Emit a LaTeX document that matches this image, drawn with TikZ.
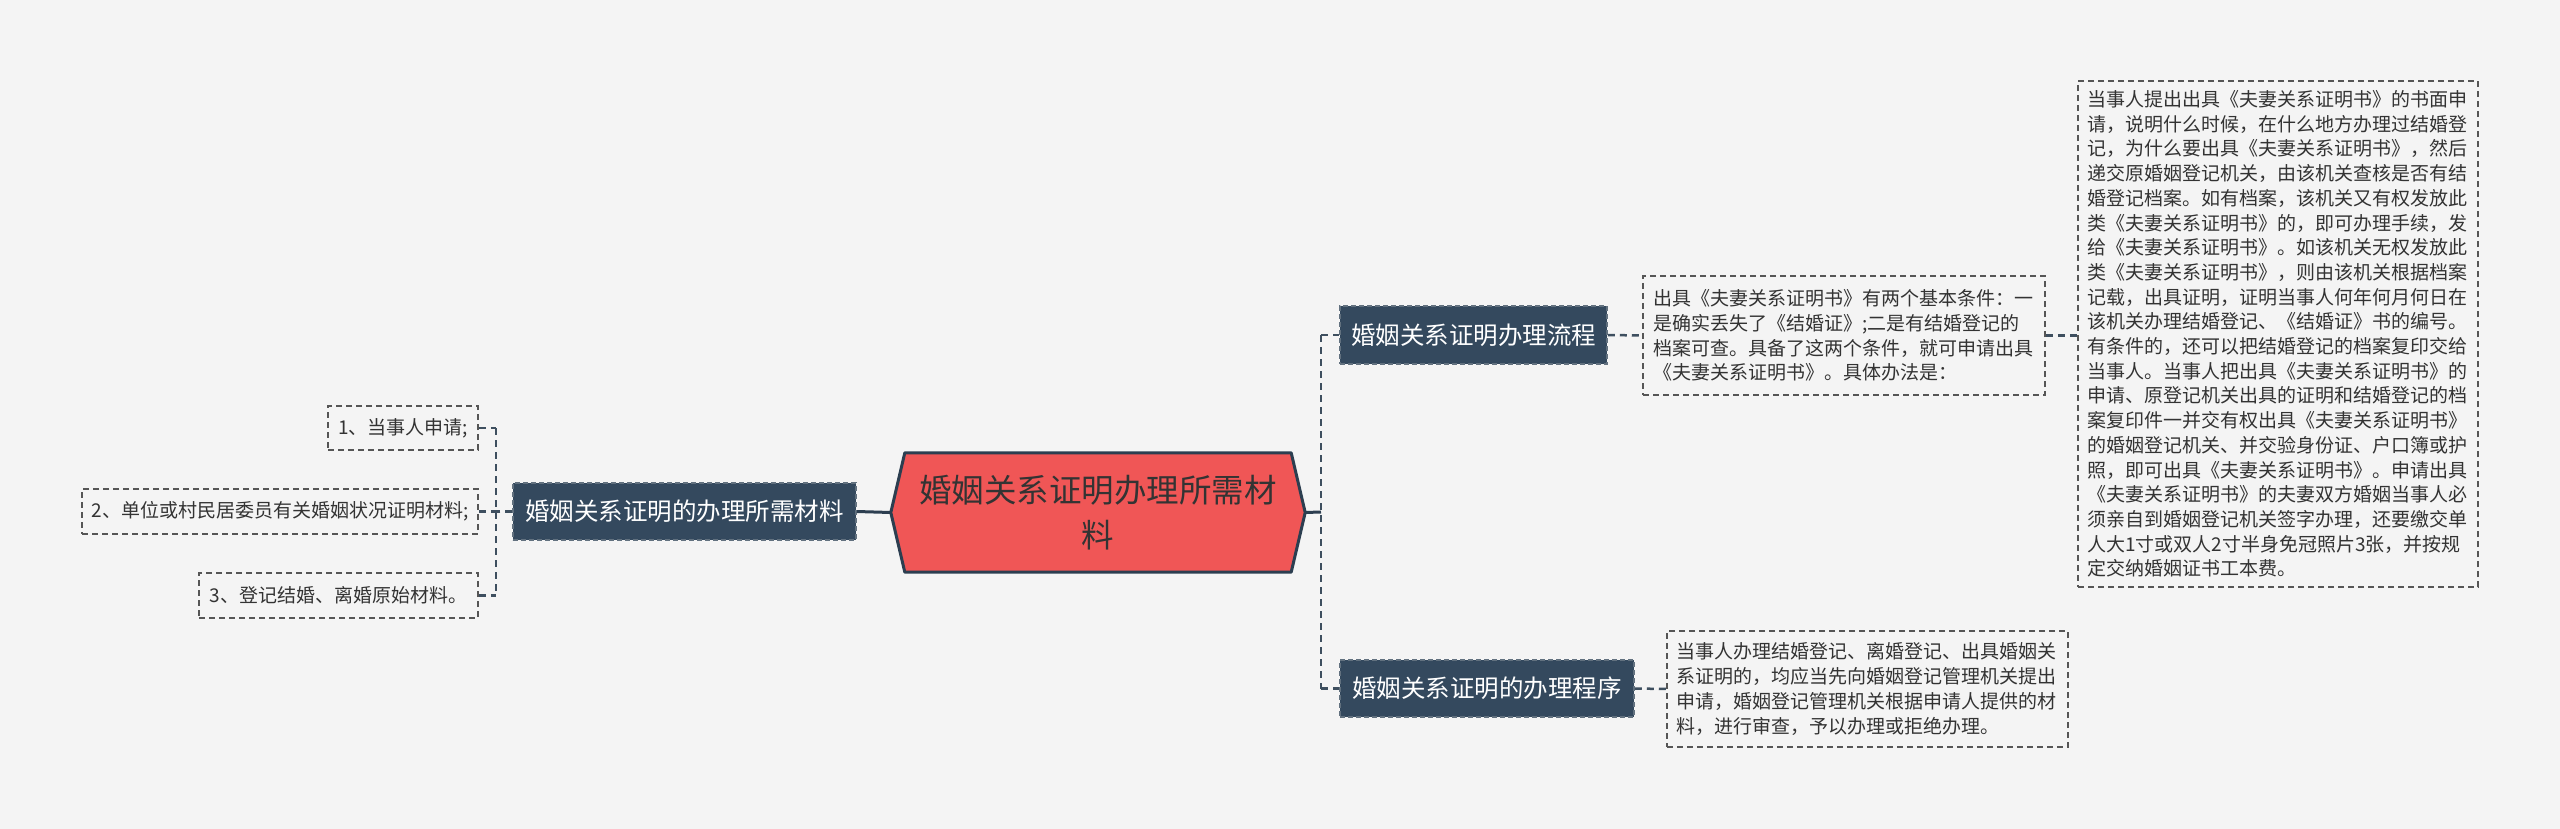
\documentclass[tikz,border=0pt]{standalone}
\usepackage{fontspec}
\setmainfont{Noto Sans CJK SC}
\usetikzlibrary{backgrounds}
\definecolor{bgc}{HTML}{F4F4F4}
\definecolor{navy}{HTML}{34495E}
\definecolor{navyb}{HTML}{62717F}
\definecolor{hexred}{HTML}{F05656}
\definecolor{hexline}{HTML}{2C3E50}
\definecolor{txt}{HTML}{333333}
\definecolor{boxline}{HTML}{555555}
\definecolor{conn}{HTML}{3E4F5F}
\begin{document}
\begin{tikzpicture}[x=1pt,y=-1pt,
  topic/.style={draw=navyb, dash pattern=on 5pt off 3pt, line width=1.5pt, fill=navy, text=white, inner sep=0pt, font=\fontsize{24.5}{30}\selectfont},
  leaf/.style={draw=boxline, dash pattern=on 6pt off 4pt, line width=1.8pt, text=txt, inner sep=0pt, font=\fontsize{19}{24.7}\selectfont},
  para/.style={leaf, align=left, text width=382pt},
  link/.style={draw=conn, line width=2.5pt, dash pattern=on 7pt off 5pt},
  solidlink/.style={draw=hexline, line width=3pt}]
\begin{scope}[on background layer]
\fill[bgc] (0,0) rectangle (2560,829);
\end{scope}
\useasboundingbox (0,0) rectangle (2560,829);

% root
\node[inner sep=0pt, minimum width=414pt, minimum height=119pt, text=txt, align=center,
      font=\fontsize{32.5}{45}\selectfont] (root) at (1098,512.5) {婚姻关系证明办理所需材\\料};
\begin{scope}[on background layer]
\filldraw[fill=hexred, draw=hexline, line width=3pt, line join=round]
  (root.west) -- ([xshift=14pt]root.north west) -- ([xshift=-14pt]root.north east)
  -- (root.east) -- ([xshift=-14pt]root.south east) -- ([xshift=14pt]root.south west) -- cycle;
\end{scope}

% topics
\node[topic, minimum width=343pt, minimum height=57pt] (lnode) at (684.5,511.5) {婚姻关系证明的办理所需材料};
\node[topic, minimum width=267pt, minimum height=58pt] (n1) at (1473.5,335) {婚姻关系证明办理流程};
\node[topic, minimum width=294pt, minimum height=57pt] (n2) at (1487,688.5) {婚姻关系证明的办理程序};

% leaves right
\node[para, minimum width=402pt, minimum height=119pt] (t1) at (1844,335.5) {出具《夫妻关系证明书》有两个基本条件：一\\是确实丢失了《结婚证》;二是有结婚登记的\\档案可查。具备了这两个条件，就可申请出具\\《夫妻关系证明书》。具体办法是：};
\node[para, minimum width=400pt, minimum height=506pt] (big) at (2278,334) {当事人提出出具《夫妻关系证明书》的书面申\\请，说明什么时候，在什么地方办理过结婚登\\记，为什么要出具《夫妻关系证明书》，然后\\递交原婚姻登记机关，由该机关查核是否有结\\婚登记档案。如有档案，该机关又有权发放此\\类《夫妻关系证明书》的，即可办理手续，发\\给《夫妻关系证明书》。如该机关无权发放此\\类《夫妻关系证明书》，则由该机关根据档案\\记载，出具证明，证明当事人何年何月何日在\\该机关办理结婚登记、《结婚证》书的编号。\\有条件的，还可以把结婚登记的档案复印交给\\当事人。当事人把出具《夫妻关系证明书》的\\申请、原登记机关出具的证明和结婚登记的档\\案复印件一并交有权出具《夫妻关系证明书》\\的婚姻登记机关、并交验身份证、户口簿或护\\照，即可出具《夫妻关系证明书》。申请出具\\《夫妻关系证明书》的夫妻双方婚姻当事人必\\须亲自到婚姻登记机关签字办理，还要缴交单\\人大1寸或双人2寸半身免冠照片3张，并按规\\定交纳婚姻证书工本费。};
\node[para, minimum width=401pt, minimum height=116pt] (t2) at (1867.5,689) {当事人办理结婚登记、离婚登记、出具婚姻关\\系证明的，均应当先向婚姻登记管理机关提出\\申请，婚姻登记管理机关根据申请人提供的材\\料，进行审查，予以办理或拒绝办理。};

% leaves left
\node[leaf, minimum width=150pt, minimum height=44pt] (i1) at (403,428) {1、当事人申请;};
\node[leaf, minimum width=396pt, minimum height=45pt] (i2) at (280,511.5) {2、单位或村民居委员有关婚姻状况证明材料;};
\node[leaf, minimum width=279pt, minimum height=45pt] (i3) at (338.5,595.5) {3、登记结婚、离婚原始材料。};

% connectors right
\coordinate (rj) at (1321,512);
\coordinate (rt) at (1321,335);
\coordinate (rb) at (1321,688.5);
\draw[solidlink] (root.east) -- (rj);
\draw[link] (rt) -- (rb);
\draw[link] (rt) -- (n1.west);
\draw[link] (rb) -- (n2.west);
\draw[link] (n1.east) -- (t1.west);
\draw[link] (t1.east) -- (big.west |- t1.east);
\draw[link] (n2.east) -- (t2.west);

% connectors left
\draw[solidlink] (root.west) -- (lnode.east);
\coordinate (lj) at (496,511.5);
\coordinate (lt) at (496,428);
\coordinate (lb) at (496,595.5);
\draw[link] (lnode.west) -- (lj);
\draw[link] (lt) -- (lb);
\draw[link] (i1.east) -- (lt);
\draw[link] (i2.east) -- (lj);
\draw[link] (i3.east) -- (lb);
\end{tikzpicture}
\end{document}
